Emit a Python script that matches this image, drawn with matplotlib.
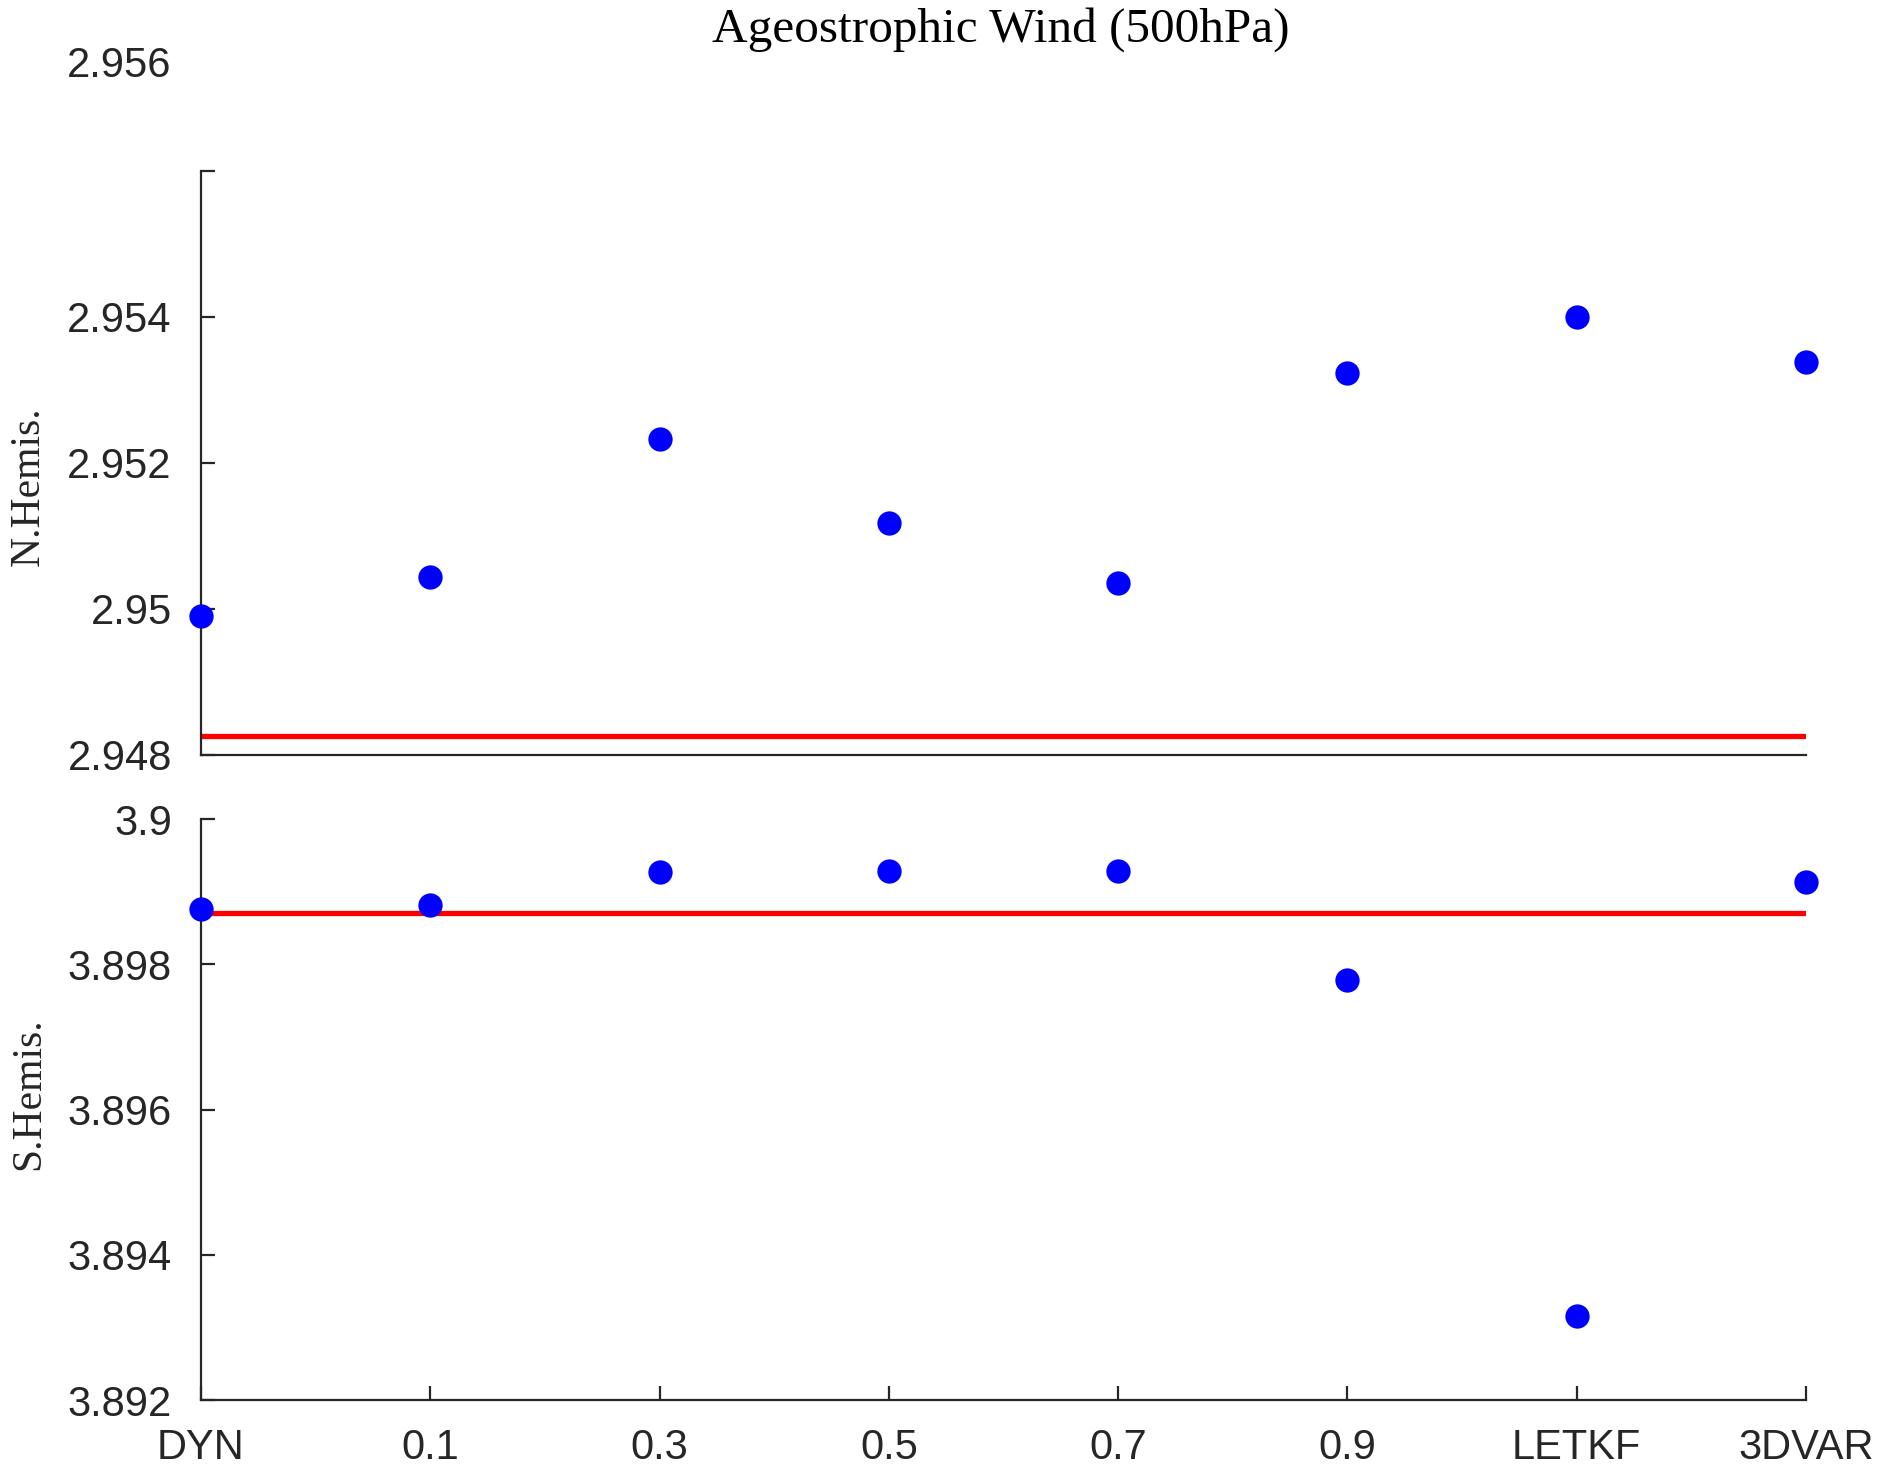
import matplotlib.pyplot as plt
import numpy as np

# data
labels = ['DYN', '0.1', '0.3', '0.5', '0.7', '0.9', 'LETKF', '3DVAR']
nh_vals = [2.94990, 2.95044, 2.95233, 2.95118, 2.95036, 2.95323, 2.95400, 2.95338]
sh_vals = [3.89876, 3.89881, 3.89927, 3.89929, 3.89929, 3.89779, 3.89315, 3.89913]
nh_ref = 2.94826
sh_ref = 3.89871
nh_ticks = [2.948, 2.950, 2.952, 2.954, 2.956]
nh_ticklabels = ['2.948', '2.95', '2.952', '2.954', '']
sh_ticks = [3.892, 3.894, 3.896, 3.898, 3.900]
sh_ticklabels = ['3.892', '3.894', '3.896', '3.898', '3.9']

W, H = 1880, 1470
fig = plt.figure(figsize=(W / 100, H / 100), dpi=100)

sans = 'Liberation Sans'
serif = 'Liberation Serif'
tcol = '#262626'

x = np.arange(len(labels))

def fx(px):
    return px / W

def fy(py):
    return 1 - py / H

ax1 = fig.add_axes([fx(201), fy(755), fx(1806) - fx(201), fy(171) - fy(755)])
ax2 = fig.add_axes([fx(201), fy(1400), fx(1806) - fx(201), fy(819) - fy(1400)])

for ax, vals, ref, ticks, tlabels in [(ax1, nh_vals, nh_ref, nh_ticks, nh_ticklabels),
                                       (ax2, sh_vals, sh_ref, sh_ticks, sh_ticklabels)]:
    ax.plot(x, vals, 'o', color='blue', markersize=17.5, markeredgewidth=0,
            clip_on=False, zorder=3)
    ax.axhline(ref, color='red', linewidth=3.8, zorder=2)
    ax.set_xlim(0, 7)
    ax.set_ylim(ticks[0], ticks[-1])
    ax.set_yticks(ticks)
    ax.set_yticklabels(tlabels, fontfamily=sans, fontsize=30, color=tcol)
    ax.spines['top'].set_visible(False)
    ax.spines['right'].set_visible(False)
    for s in ['left', 'bottom']:
        ax.spines[s].set_linewidth(1.6)
        ax.spines[s].set_color(tcol)
    ax.tick_params(axis='both', direction='in', length=10, width=1.6,
                   color=tcol, pad=21)

ax1.set_xticks([])
ax2.set_xticks(x)
ax2.set_xticklabels(labels, fontfamily=sans, fontsize=30, color=tcol)
ax2.tick_params(axis='x', pad=20)

# stray top tick label sitting above the upper panel
fig.text(fx(171), fy(66), '2.956', ha='right', va='center',
         fontfamily=sans, fontsize=30, color=tcol)

fig.text(fx(1001), fy(30), 'Ageostrophic Wind (500hPa)', ha='center', va='center',
         fontfamily=serif, fontsize=35.5, color='black')
fig.text(fx(29), fy(486), 'N.Hemis.', ha='center', va='center', rotation=90,
         fontfamily=serif, fontsize=30, color=tcol)
fig.text(fx(29), fy(1094), 'S.Hemis.', ha='center', va='center', rotation=90,
         fontfamily=serif, fontsize=30, color=tcol)

fig.savefig('out.png', dpi=100)
